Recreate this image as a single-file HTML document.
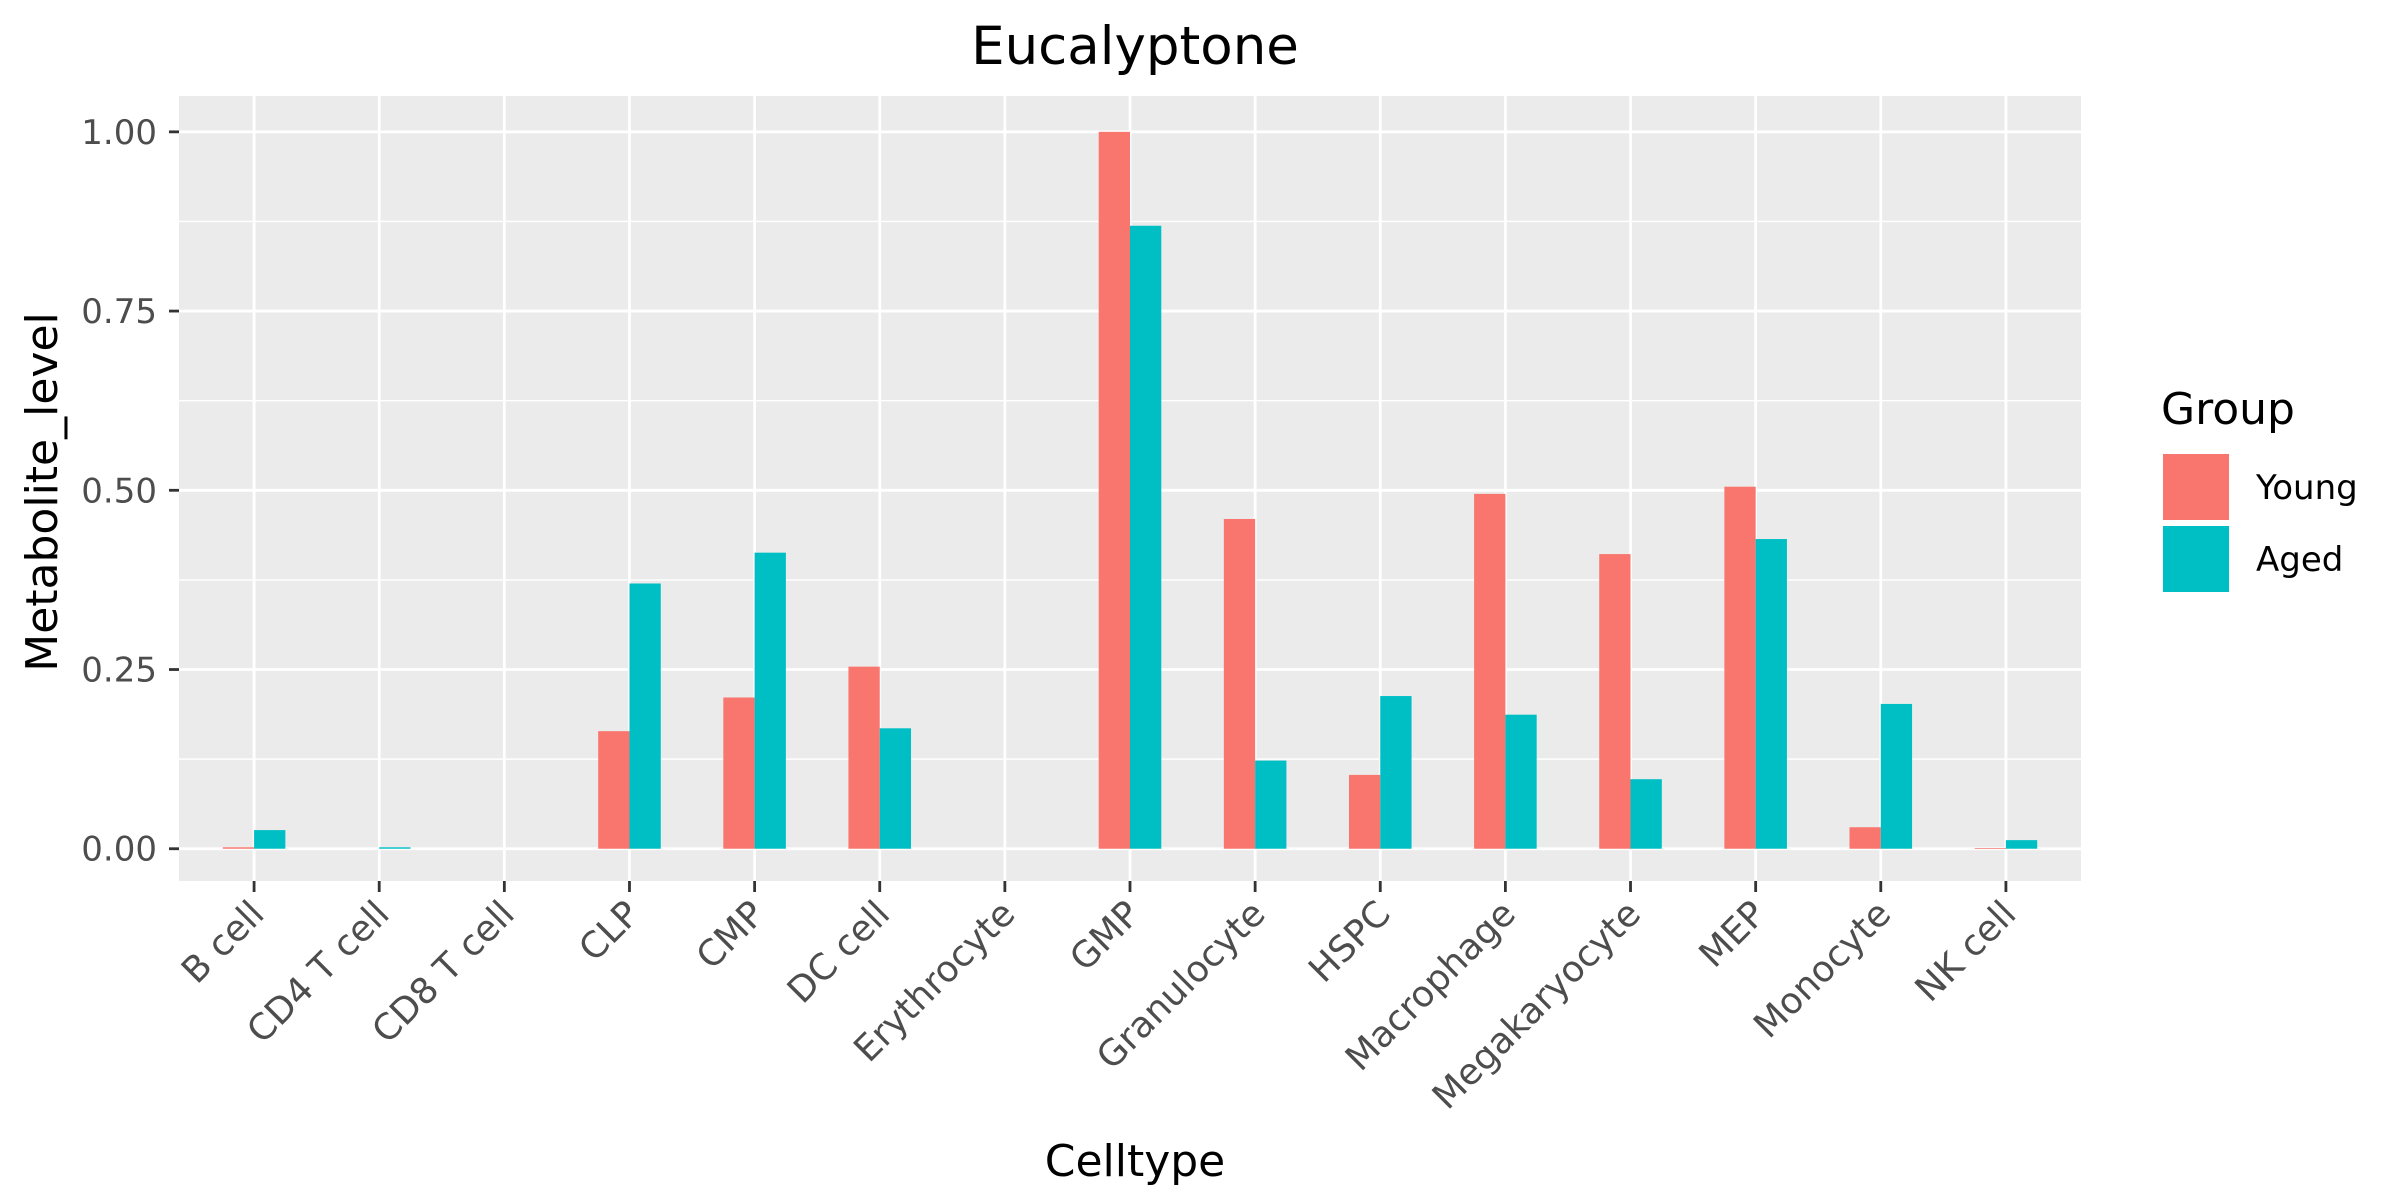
<!DOCTYPE html>
<html><head><meta charset="utf-8"><style>body{margin:0;background:#fff}svg{display:block;font-family:"DejaVu Sans","Liberation Sans",sans-serif}</style></head>
<body>
<svg id="chart" width="2400" height="1200" viewBox="0 0 2400 1200" xmlns="http://www.w3.org/2000/svg">
<text x="1135" y="64" font-size="53" text-anchor="middle" fill="#000">Eucalyptone</text>
<rect x="179" y="96" width="1902" height="785" fill="#ebebeb"/>
<g id="grid"></g>
<g id="bars"></g>
<g id="axes"></g>
<text x="1135" y="1176" font-size="44" text-anchor="middle" fill="#000">Celltype</text>
<text transform="translate(57,492) rotate(-90)" font-size="44" text-anchor="middle" fill="#000">Metabolite_level</text>
<g>
<text x="2161" y="424" font-size="44" fill="#000">Group</text>
<rect x="2163" y="454" width="66" height="66" fill="#f8766d"/>
<rect x="2163" y="526" width="66" height="66" fill="#00bfc4"/>
<text x="2256" y="499" font-size="34" fill="#000">Young</text>
<text x="2256" y="571" font-size="34" fill="#000">Aged</text>
</g>
</svg>
<script>
const categories = ["B cell","CD4 T cell","CD8 T cell","CLP","CMP","DC cell","Erythrocyte","GMP","Granulocyte","HSPC","Macrophage","Megakaryocyte","MEP","Monocyte","NK cell"];
const youngValues = [0.002,0,0,0.164,0.211,0.254,0,1.0,0.46,0.103,0.495,0.411,0.505,0.03,0.001];
const agedValues = [0.026,0.002,0,0.37,0.413,0.168,0,0.869,0.123,0.213,0.187,0.097,0.432,0.202,0.012];
const yTicks = [0,0.25,0.5,0.75,1.0];
const yTickLabels = ["0.00","0.25","0.50","0.75","1.00"];
const yMinor = [0.125,0.375,0.625,0.875];

const NS="http://www.w3.org/2000/svg";
const px0=179, px1=2081, py0=96, py1=881;
const yMin=-0.045, yMax=1.05;
const step=(px1-px0)/(categories.length+0.2);
function xPos(i){return px0+step*(0.6+i);}
function yPos(v){return py1-(v-yMin)/(yMax-yMin)*(py1-py0);}
function mk(tag,attrs,parent){const e=document.createElementNS(NS,tag);for(const k in attrs)e.setAttribute(k,attrs[k]);parent.appendChild(e);return e;}
const grid=document.getElementById('grid'),bars=document.getElementById('bars'),axes=document.getElementById('axes');
yMinor.forEach(v=>{const l=mk('line',{x1:px0,x2:px1,y1:yPos(v),y2:yPos(v),stroke:'#fff','stroke-width':1.4},grid);

});
yTicks.forEach((v,i)=>{const l=mk('line',{x1:px0,x2:px1,y1:yPos(v),y2:yPos(v),stroke:'#fff','stroke-width':2.8},grid);


const t=mk('line',{x1:px0-10,x2:px0,y1:yPos(v),y2:yPos(v),stroke:'#333','stroke-width':2.8},axes);


const tx=mk('text',{x:px0-22,y:yPos(v)+12,'font-size':34,'text-anchor':'end',fill:'#4d4d4d'},axes);
tx.textContent=yTickLabels[i];

});
const bw=step*0.25;
categories.forEach((c,i)=>{const x=xPos(i);
const g=mk('line',{x1:x,x2:x,y1:py0,y2:py1,stroke:'#fff','stroke-width':2.8},grid);


const y0=yPos(0);
const yb=mk('rect',{x:x-bw,y:Math.min(yPos(youngValues[i]),y0),width:bw,height:Math.abs(y0-yPos(youngValues[i])),fill:'#f8766d'},bars);


const ab=mk('rect',{x:x,y:Math.min(yPos(agedValues[i]),y0),width:bw,height:Math.abs(y0-yPos(agedValues[i])),fill:'#00bfc4'},bars);


const t=mk('line',{x1:x,x2:x,y1:py1,y2:py1+11,stroke:'#333','stroke-width':2.8},axes);


const tx=mk('text',{transform:`translate(${x+12},${py1+35}) rotate(-45)`,'font-size':36,'text-anchor':'end',fill:'#4d4d4d'},axes);
tx.textContent=c;

});
</script>
</body></html>
